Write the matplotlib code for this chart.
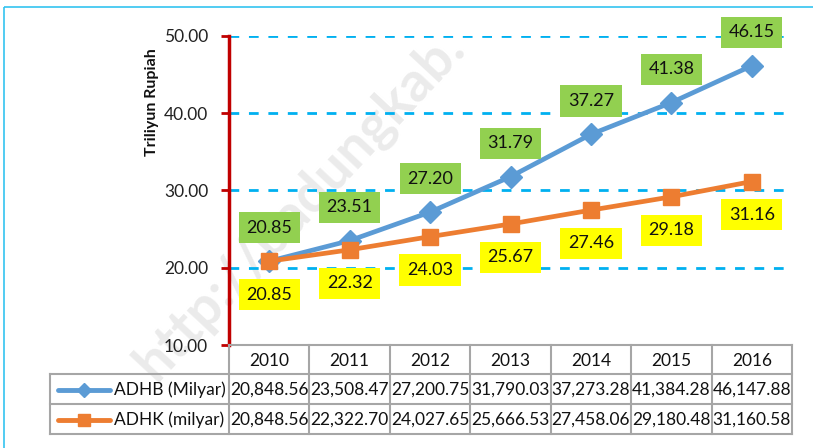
import matplotlib
matplotlib.use("Agg")
import matplotlib.pyplot as plt
from matplotlib.patches import Rectangle
from matplotlib.lines import Line2D

years = ["2010", "2011", "2012", "2013", "2014", "2015", "2016"]
adhb = [20848.56, 23508.47, 27200.75, 31790.03, 37273.28, 41384.28, 46147.88]
adhk = [20848.56, 22322.70, 24027.65, 25666.53, 27458.06, 29180.48, 31160.58]
series_names = ["ADHB (Milyar)", "ADHK (milyar)"]
y_ticks = [10, 20, 30, 40, 50]
y_label = "Triliyun Rupiah"

FONT = ["Lato", "DejaVu Sans"]
plt.rcParams["font.family"] = FONT

W, H = 813, 448
fig = plt.figure(figsize=(W / 100, H / 100), dpi=100)

def fx(px):
    return px / W

def fy(py):
    return 1 - py / H

# overlay pixel axes
ov = fig.add_axes([0, 0, 1, 1], zorder=2)
ov.set_xlim(0, W)
ov.set_ylim(H, 0)
ov.axis("off")
ov.patch.set_alpha(0)

# watermark
fig.text(fx(300), fy(205), "http://badungkab.", rotation=47, fontsize=40,
         fontweight="bold", color="#ebebeb", ha="center", va="center", zorder=-5)

# outer frame
ov.add_patch(Rectangle((4, 7), 900, 600, fill=False, edgecolor="#33C3F0", lw=1.2))

colors = ["#5B9BD5", "#ED7D31"]
left, right, top, bot = 229, 792, 36, 345
ax = fig.add_axes([fx(left), fy(bot), (right - left) / W, (bot - top) / H], zorder=1)
ax.patch.set_alpha(0)
x = list(range(len(years)))
vb = [v / 1000 for v in adhb]
vk = [v / 1000 for v in adhk]
ax.set_xlim(-0.5, len(years) - 0.5)
ax.set_ylim(10, 50)
for g in y_ticks[1:]:
    ax.axhline(g, color="#00B0F0", lw=2, ls=(0, (3.5, 3.5)), zorder=1)
ax.plot(x, vb, color=colors[0], lw=3.4, marker="D", ms=11, zorder=3, clip_on=False)
ax.plot(x, vk, color=colors[1], lw=3.4, marker="s", ms=11, zorder=4, clip_on=False)

for xi, v in zip(x, vb):
    ax.annotate(f"{v:.2f}", (xi, v), xytext=(0, 24), textcoords="offset points",
                ha="center", va="center", fontsize=13, color="#111111", zorder=6,
                bbox=dict(boxstyle="square,pad=0.42", fc="#92D050", ec="none"))
for xi, v in zip(x, vk):
    ax.annotate(f"{v:.2f}", (xi, v), xytext=(0, -24), textcoords="offset points",
                ha="center", va="center", fontsize=13, color="#111111", zorder=6,
                bbox=dict(boxstyle="square,pad=0.42", fc="#FFFF00", ec="none"))

ax.set_yticks(y_ticks)
ax.set_yticklabels([f"{t:.2f}" for t in y_ticks], fontsize=12.5, color="#222222")
ax.set_xticks([])
for s in ["top", "right", "bottom"]:
    ax.spines[s].set_visible(False)
ax.spines["left"].set_color("#C00000")
ax.spines["left"].set_linewidth(2.5)
ax.tick_params(axis="y", colors="#C00000", length=6, width=2, labelcolor="#222222", pad=9)
ax.spines["left"].set_zorder(5)

fig.text(fx(152), fy(102), y_label, rotation=90, fontsize=11.5, fontweight="bold",
         ha="center", va="center", color="#111111")

# table
gc = "#A6A6A6"
colw = (right - left) / len(years)
rows_y = [345, 374, 404, 434]
legx = 50
ov.plot([left, right], [rows_y[0]] * 2, color=gc, lw=1.5)
for yy in rows_y[1:]:
    ov.plot([legx, right], [yy, yy], color=gc, lw=1.5)
for i in range(len(years) + 1):
    xx = left + i * colw
    ov.plot([xx, xx], [rows_y[0], rows_y[3]], color=gc, lw=1.5)
ov.plot([legx, legx], [rows_y[1], rows_y[3]], color=gc, lw=1.5)

for i, yr in enumerate(years):
    ov.text(left + (i + 0.5) * colw, (rows_y[0] + rows_y[1]) / 2 + 1, yr,
            ha="center", va="center", fontsize=12.5, color="#111111")
for r, (vals, name, c, m, ms) in enumerate(zip([adhb, adhk], series_names, colors,
                                              ["D", "s"], [7, 9])):
    yc = (rows_y[r + 1] + rows_y[r + 2]) / 2 + 1
    ov.add_line(Line2D([58, 110], [yc, yc], color=c, lw=3.5, solid_capstyle="round"))
    ov.plot([84], [yc], marker=m, ms=ms, color=c)
    ov.text(114, yc, name, ha="left", va="center", fontsize=12.5, color="#111111")
    for i, v in enumerate(vals):
        ov.text(left + (i + 0.5) * colw, yc, f"{v:,.2f}", ha="center", va="center",
                fontsize=12.5, color="#111111")

fig.savefig("out.png", dpi=100, facecolor="white")
